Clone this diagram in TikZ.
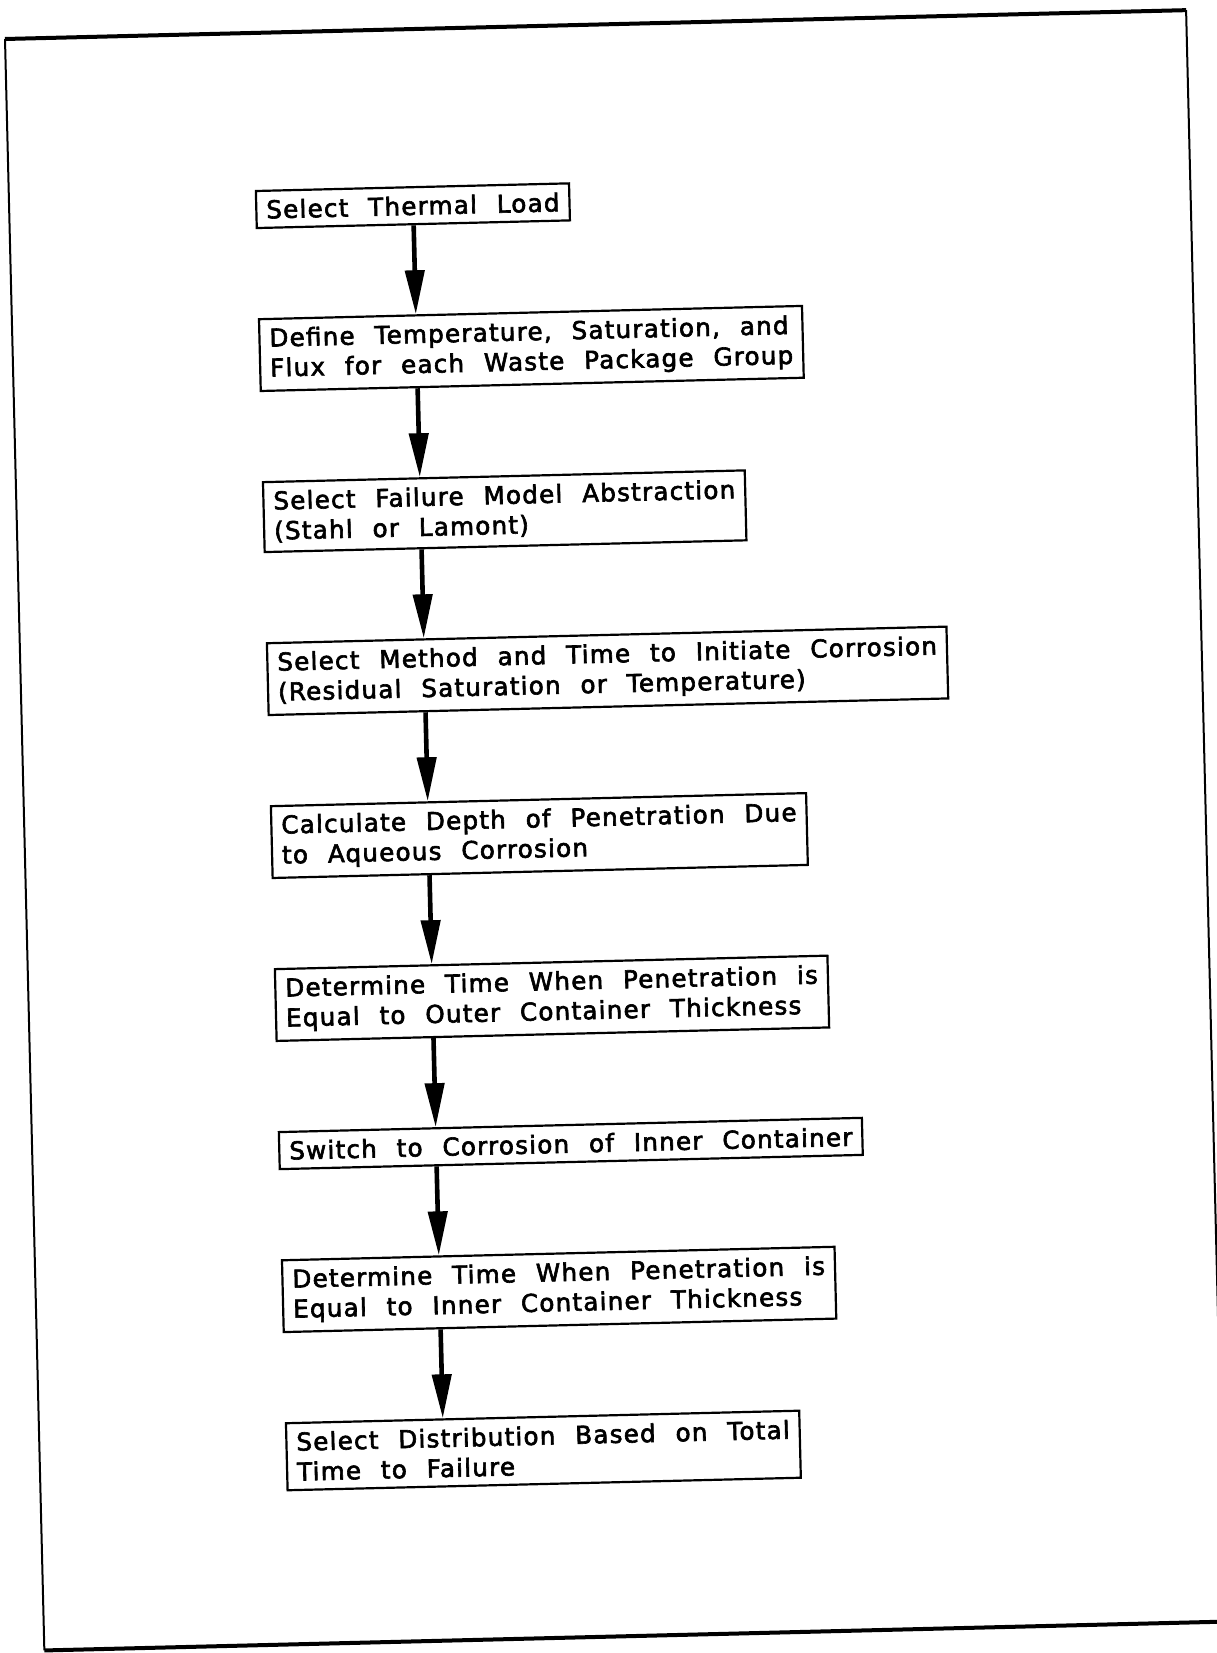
\documentclass[tikz,border=0pt]{standalone}
\usepackage{fontspec}
\setmainfont{DejaVu Sans}[LetterSpace=5,WordSpace=2.2,FakeBold=2.5]
\usetikzlibrary{arrows.meta,positioning}

\begin{document}
\begin{tikzpicture}[x=0.5pt, y=-0.5pt,
  stepbox/.style={draw, line width=1.1pt, align=left, anchor=north west,
    inner xsep=5pt, inner ysep=4.5pt, font=\fontsize{12.3}{15}\selectfont},
  flow/.style={line width=2.3pt, -{Triangle[length=22pt, width=9.5pt]}}]
\useasboundingbox (0,0) rectangle (1216,1653);
% the sheet sits a little askew on the scan
\begin{scope}[transform canvas={shift={(5,39)}, rotate=1.4}]
\draw[line width=2pt] (0,0) -- (1181.5,0);
\draw[line width=2pt] (0,1612) -- (1181.5,1612);
\draw[line width=1pt] (0,0) -- (0,1612);
\draw[line width=1pt] (1181.5,0) -- (1181.5,1612);
\coordinate (spine) at (404,0);
\node[stepbox] (load) at (246,157) {Select Thermal Load};
\node[stepbox, below right=44.5pt and 0pt of load.south west] (flux)
  {Define Temperature, Saturation, and\\Flux for each Waste Package Group};
\node[stepbox, below right=44.5pt and 0pt of flux.south west] (model)
  {Select Failure Model Abstraction\\(Stahl or Lamont)};
\node[stepbox, below right=44.5pt and 0pt of model.south west] (onset)
  {Select Method and Time to Initiate Corrosion\\(Residual Saturation or
   Temperature)};
\node[stepbox, below right=44.5pt and 0pt of onset.south west] (depth)
  {Calculate Depth of Penetration Due\\to Aqueous Corrosion};
\node[stepbox, below right=44.5pt and 0pt of depth.south west] (outer)
  {Determine Time When Penetration is\\Equal to Outer Container Thickness};
\node[stepbox, below right=44.5pt and 0pt of outer.south west] (switch)
  {Switch to Corrosion of Inner Container};
\node[stepbox, below right=44.5pt and 0pt of switch.south west] (inner)
  {Determine Time When Penetration is\\Equal to Inner Container Thickness};
\node[stepbox, below right=44.5pt and 0pt of inner.south west] (dist)
  {Select Distribution Based on Total\\Time to Failure};
\draw[flow] (load.south -| spine) -- (flux.north -| spine);
\draw[flow] (flux.south -| spine) -- (model.north -| spine);
\draw[flow] (model.south -| spine) -- (onset.north -| spine);
\draw[flow] (onset.south -| spine) -- (depth.north -| spine);
\draw[flow] (depth.south -| spine) -- (outer.north -| spine);
\draw[flow] (outer.south -| spine) -- (switch.north -| spine);
\draw[flow] (switch.south -| spine) -- (inner.north -| spine);
\draw[flow] (inner.south -| spine) -- (dist.north -| spine);
\end{scope}
\end{tikzpicture}
\end{document}
